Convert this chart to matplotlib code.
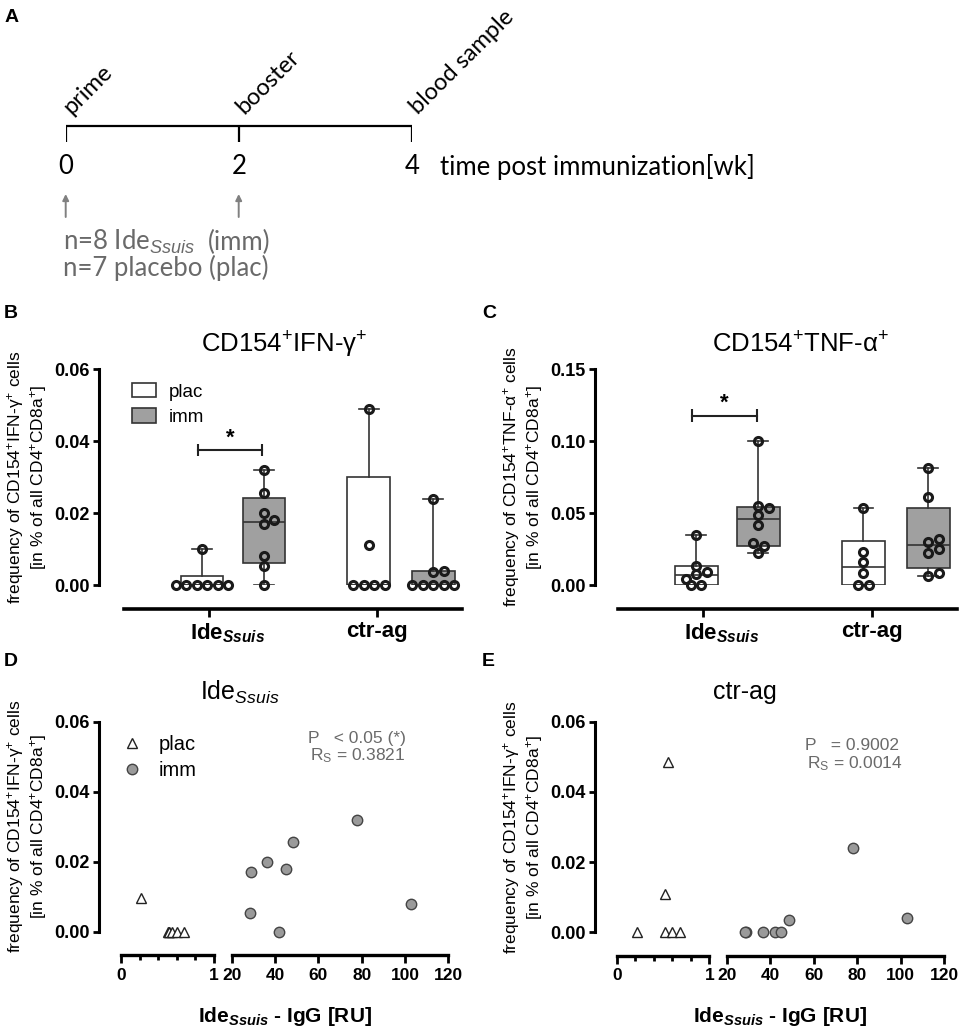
import numpy as np
import matplotlib
matplotlib.use('Agg')
import matplotlib.pyplot as plt
from matplotlib.patches import Patch
from matplotlib.lines import Line2D
from matplotlib.transforms import ScaledTranslation

plt.rcParams['font.family'] = 'Liberation Sans'
plt.rcParams['mathtext.fontset'] = 'custom'
plt.rcParams['mathtext.rm'] = 'Liberation Sans'
plt.rcParams['mathtext.it'] = 'Liberation Sans:italic'
plt.rcParams['mathtext.bf'] = 'Liberation Sans:bold'
plt.rcParams['mathtext.bfit'] = 'Liberation Sans:italic:bold'

# ---- data ----
# A: schedule
weeks = [0, 2, 4]
events = ['prime', 'booster', 'blood sample']
inj_weeks = [0, 2]

# B: CD154+IFN-g+ (plac / imm for Ide and ctr-ag)
groups = ['Ide$_{\\mathbfit{Ssuis}}$', 'ctr-ag']
ifn_ide_plac = [0.010, 0, 0, 0, 0, 0, 0]
ifn_ide_imm = [0.032, 0.0255, 0.020, 0.018, 0.017, 0.008, 0.0053, 0.0]
ifn_ctr_plac = [0.049, 0.011, 0, 0, 0, 0]
ifn_ctr_imm = [0.024, 0.004, 0.0035, 0, 0, 0, 0, 0]
# q1, median, q3 as drawn
ifn_q1 = [0, 0.0062, 0, 0]
ifn_med = [0, 0.0175, 0, 0]
ifn_q3 = [0.0026, 0.0243, 0.030, 0.004]

# C: CD154+TNF-a+
tnf_ide_plac = [0.035, 0.0134, 0.0093, 0.0074, 0.0042, 0.0, 0.0]
tnf_ide_imm = [0.100, 0.0549, 0.0532, 0.0486, 0.0417, 0.029, 0.0271, 0.022]
tnf_ctr_plac = [0.0532, 0.0227, 0.0158, 0.0081, 0.0, 0.0]
tnf_ctr_imm = [0.081, 0.0609, 0.032, 0.030, 0.025, 0.022, 0.0081, 0.0065]
tnf_q1 = [0, 0.0273, 0, 0.0116]
tnf_med = [0.007, 0.0456, 0.0123, 0.0278]
tnf_q3 = [0.0132, 0.0544, 0.0306, 0.0532]

# D / E: IFN-g+ vs IgG
plac_igg_d = [0.22, 0.50, 0.52, 0.52, 0.55, 0.60, 0.68]
plac_ifn_d = [0.0095, 0, 0, 0, 0, 0, 0]
imm_igg = [29, 28.5, 36.5, 42, 45, 48.5, 78, 103]
imm_ifn_d = [0.017, 0.0053, 0.020, 0, 0.018, 0.0255, 0.032, 0.008]
plac_igg_e = [0.22, 0.55, 0.52, 0.52, 0.60, 0.68]
plac_ifn_e = [0, 0.0486, 0.0109, 0, 0, 0]
imm_ifn_e = [0, 0, 0, 0, 0, 0.0035, 0.024, 0.004]

stats_d = ['P   < 0.05 (*)', 'R$_{\\mathrm{S}}$ = 0.3821']
stats_e = ['P   = 0.9002', 'R$_{\\mathrm{S}}$ = 0.0014']

# ---- layout helpers ----
W, H, DPI = 960, 1030, 100
P2PT = 72 / DPI
fig = plt.figure(figsize=(W / DPI, H / DPI), dpi=DPI)


def px_box(x0, y0, x1, y1):
    return [x0 / W, 1 - y1 / H, (x1 - x0) / W, (y1 - y0) / H]


def fx(x):
    return x / W


def fy(y):
    return 1 - y / H


INK = '#222222'
GRAY_BOX = '#a0a0a0'
TXT_GRAY = '#6a6a6a'

ylab = ('frequency of CD154$^{+}$IFN-$\\mathrm{\\gamma}^{+}$ cells\n'
        '[in % of all CD4$^{+}$CD8a$^{+}$]')
ylab_tnf = ('frequency of CD154$^{+}$TNF-$\\mathrm{\\alpha}^{+}$ cells\n'
            '[in % of all CD4$^{+}$CD8a$^{+}$]')


def swarm(vals, center, dx, dy):
    vals = np.asarray(vals, float)
    xs = np.full(len(vals), np.nan)
    order = np.argsort(vals)
    step = dx * 1.05
    for i in order:
        k = 0
        while True:
            cands = [0] if k == 0 else [k, -k]
            done = False
            for c in cands:
                x = center + c * step * 0.5
                ok = True
                for j in range(len(vals)):
                    if np.isnan(xs[j]):
                        continue
                    d = ((x - xs[j]) / dx) ** 2 + ((vals[i] - vals[j]) / dy) ** 2
                    if d < 0.85 ** 2:
                        ok = False
                        break
                if ok:
                    xs[i] = x
                    done = True
                    break
            if done:
                break
            k += 1
    for v in np.unique(vals):
        m = vals == v
        if m.sum() > 1:
            xs[m] -= xs[m].mean() - center
    return xs


# ---- A ----
axA = fig.add_axes(px_box(65.7, 100, 411.7, 290))
axA.set_xlim(0, 4)
axA.set_ylim(290, 100)
axA.axis('off')
fA = 'Lato'
fsA = 18.5
axA.plot([weeks[0], weeks[-1]], [126, 126], color='black', lw=1.6, solid_capstyle='butt')
axA.vlines(weeks, 126, 142, color='black', lw=1.6)
for w, e in zip(weeks, events):
    axA.text(w, 167, str(w), ha='center', va='center', fontsize=fsA, family=fA)
    axA.annotate(e, xy=(w, 126), xytext=(9, 8), textcoords='offset pixels',
                 rotation=45, rotation_mode='anchor', ha='left', va='bottom',
                 fontsize=17, family=fA)
axA.annotate('time post immunization[wk]', xy=(weeks[-1], 167), xytext=(28, 0),
             textcoords='offset pixels', ha='left', va='center', fontsize=fsA, family=fA)
for w in inj_weeks:
    axA.annotate('', xy=(w, 194), xytext=(w, 217),
                 arrowprops=dict(arrowstyle='-|>', color='#808080', lw=1.4,
                                 mutation_scale=9, shrinkA=0, shrinkB=0))
axA.annotate('n=8 Ide$_{\\mathit{Ssuis}}$', xy=(0, 242), xytext=(-3, 0), textcoords='offset pixels',
             ha='left', va='center', fontsize=fsA, family=fA, color=TXT_GRAY)
axA.text(2, 242, '(imm)', ha='center', va='center', fontsize=fsA, family=fA, color=TXT_GRAY)
axA.annotate('n=7 placebo (plac)', xy=(0, 268), xytext=(-3, 0), textcoords='offset pixels',
             ha='left', va='center', fontsize=fsA, family=fA, color=TXT_GRAY)

# ---- B / C box panels ----
pos = [1, 2, 3.69, 4.73]
cat_ticks = [1.11, 3.82]


def box_panel(rect, left_px, data, q1, med, q3, ymax, yticks, title, title_x, ylabel,
              bracket_y, bracket_h, star_y, legend=False):
    ax = fig.add_axes(px_box(*rect))
    ax.set_facecolor('none')
    ax.set_xlim(-0.258, 5.194)
    ax.set_ylim(0, ymax)
    for s in ['top', 'right']:
        ax.spines[s].set_visible(False)
    ax.spines['left'].set_position(('outward', (rect[0] - left_px) * P2PT))
    ax.spines['bottom'].set_position(('outward', 24 * P2PT))
    ax.spines['left'].set_linewidth(2.2)
    ax.spines['bottom'].set_linewidth(2.6)
    ax.tick_params(axis='y', length=4.5, width=2, labelsize=13, pad=2)
    ax.tick_params(axis='x', length=6, width=2, labelsize=16, pad=3)
    ax.set_yticks(yticks, labels=[f'{t:.2f}' for t in yticks], fontweight='bold')
    ax.set_xticks(cat_ticks, labels=groups, fontweight='bold')
    # Ide is centred on its tick, subscript hangs to the right
    lbl = ax.get_xticklabels()[0]
    lbl.set_transform(lbl.get_transform() + ScaledTranslation(0.19, 0, fig.dpi_scale_trans))

    stats = [dict(q1=a, med=b, q3=c, whislo=min(d), whishi=max(d))
             for a, b, c, d in zip(q1, med, q3, data)]
    lp = dict(color='#333333', linewidth=1.2)
    bp = ax.bxp(stats, positions=pos, widths=0.69, patch_artist=True, showfliers=False,
                capwidths=0.32, boxprops=dict(edgecolor='#333333', linewidth=1.2),
                medianprops=lp, whiskerprops=lp, capprops=lp, manage_ticks=False)
    for patch, fc in zip(bp['boxes'], ['white', GRAY_BOX, 'white', GRAY_BOX]):
        patch.set_facecolor(fc)

    dy = 10 / (216 / ymax)
    for vals, p in zip(data, pos):
        xs = swarm(vals, p, 10 / 62, dy)
        ax.plot(xs, vals, 'o', ms=5.8, mfc='none', mec='#1a1a1a', mew=2.2,
                clip_on=False, zorder=5)

    x0, x1 = 0.93, 1.97
    ax.plot([x0, x1], [bracket_y, bracket_y], color=INK, lw=1.5)
    ax.vlines([x0, x1], bracket_y - bracket_h, bracket_y + bracket_h, color=INK, lw=1.5)
    ax.text((x0 + x1) / 2, star_y, '*', ha='center', va='center', fontsize=16, fontweight='bold')

    fig.text(fx(title_x), fy(345), title, ha='center', va='center', fontsize=18.5)
    ax.set_ylabel(ylabel, fontsize=12.5, linespacing=1.15, labelpad=4)

    if legend:
        handles = [Patch(facecolor='white', edgecolor='#333333', lw=1.2),
                   Patch(facecolor=GRAY_BOX, edgecolor='#333333', lw=1.2)]
        ax.legend(handles, ['plac', 'imm'], loc='upper left', bbox_to_anchor=(0.024, 0.935),
                  frameon=False, fontsize=13.5, handlelength=1.25, handleheight=0.8,
                  handletextpad=0.7, labelspacing=0.4, borderaxespad=0, borderpad=0)
    return ax


box_panel((124, 369, 462, 585), 99, [ifn_ide_plac, ifn_ide_imm, ifn_ctr_plac, ifn_ctr_imm],
          ifn_q1, ifn_med, ifn_q3, 0.06, [0, 0.02, 0.04, 0.06],
          'CD154$^{+}$IFN-$\\mathrm{\\gamma}^{+}$', 284, ylab, 0.0375, 0.0018, 0.0408, legend=True)
box_panel((618, 369, 957, 585), 595, [tnf_ide_plac, tnf_ide_imm, tnf_ctr_plac, tnf_ctr_imm],
          tnf_q1, tnf_med, tnf_q3, 0.15, [0, 0.05, 0.10, 0.15],
          'CD154$^{+}$TNF-$\\mathrm{\\alpha}^{+}$', 801, ylab_tnf, 0.1176, 0.0045, 0.126)


# ---- D / E scatter panels ----
def scatter_panel(x_spine, x0, x1, x2, x3, y_top, y_bot, plac_x, plac_y, imm_y,
                  title, title_x, stats_txt, stats_x, stats_y, legend=False):
    axl = fig.add_axes(px_box(x0, y_top, x1, y_bot))
    axr = fig.add_axes(px_box(x2, y_top, x3, y_bot))
    axl.set_xlim(0, 1)
    axr.set_xlim(20, 120)
    for ax in (axl, axr):
        ax.set_facecolor('none')
        ax.set_ylim(0, 0.06)
        for s in ['top', 'right']:
            ax.spines[s].set_visible(False)
        ax.spines['bottom'].set_position(('outward', 23.5 * P2PT))
        ax.spines['bottom'].set_linewidth(2.4)
        ax.tick_params(axis='x', which='major', length=6, width=2, labelsize=12.5, pad=3)
    axl.spines['left'].set_position(('outward', (x0 - x_spine) * P2PT))
    axl.spines['left'].set_linewidth(2.2)
    axl.tick_params(axis='y', length=4.5, width=2, labelsize=13, pad=2)
    axl.tick_params(axis='x', which='minor', length=3.5, width=2)
    axr.spines['left'].set_visible(False)
    axr.tick_params(axis='y', left=False, labelleft=False)
    yt = [0, 0.02, 0.04, 0.06]
    axl.set_yticks(yt, labels=[f'{t:.2f}' for t in yt], fontweight='bold')
    axl.set_xticks([0, 1], labels=['0', '1'], fontweight='bold')
    axl.set_xticks([0.2, 0.4, 0.6, 0.8], minor=True)
    xt = list(range(20, 121, 20))
    axr.set_xticks(xt, labels=[str(t) for t in xt], fontweight='bold')

    axl.plot(plac_x, plac_y, '^', ms=7, mfc='white', mec=INK, mew=1.0, clip_on=False, zorder=5)
    axr.plot(imm_igg, imm_y, 'o', ms=7.5, mfc='#9a9a9a', mec='#444444', mew=1.0,
             clip_on=False, zorder=5)

    axl.set_ylabel(ylab, fontsize=12.5, linespacing=1.15, labelpad=4)
    fig.text(fx(title_x), fy(692), title, ha='center', va='center', fontsize=18)
    fig.text(fx((x0 + x3) / 2), fy(1016), 'Ide$_{\\mathbfit{Ssuis}}$ - IgG [RU]',
             ha='center', va='center', fontsize=15, fontweight='bold')
    fig.text(fx(stats_x), fy(stats_y), stats_txt[0], ha='left', va='center', fontsize=12.5,
             color=TXT_GRAY)
    fig.text(fx(stats_x + 2), fy(stats_y + 18), stats_txt[1], ha='left', va='center', fontsize=12.5,
             color=TXT_GRAY)

    if legend:
        handles = [Line2D([], [], ls='none', marker='^', ms=7, mfc='white', mec=INK, mew=1.0),
                   Line2D([], [], ls='none', marker='o', ms=7.5, mfc='#9a9a9a', mec='#444444', mew=1.0)]
        axl.legend(handles, ['plac', 'imm'], loc='upper left', bbox_to_anchor=(fx(122), fy(735)),
                   bbox_transform=fig.transFigure, frameon=False, fontsize=14.5,
                   handlelength=1.0, handletextpad=0.8, labelspacing=0.35,
                   borderaxespad=0, borderpad=0)
    return axl, axr


scatter_panel(99, 121, 214, 231.7, 448.3, 721.7, 931.7, plac_igg_d, plac_ifn_d, imm_ifn_d,
              'Ide$_{\\mathit{Ssuis}}$', 240, stats_d, 308, 738, legend=True)
scatter_panel(595, 616.7, 709.3, 726.7, 944, 721.7, 932.3, plac_igg_e, plac_ifn_e, imm_ifn_e,
              'ctr-ag', 745, stats_e, 805, 746)

# ---- panel letters ----
for letter, x, y in [('A', 12, 17), ('B', 11, 313), ('C', 489, 313), ('D', 11, 662), ('E', 488, 662)]:
    fig.text(fx(x), fy(y), letter, ha='center', va='center', fontsize=14, fontweight='bold')

fig.savefig('out.png', dpi=DPI)
